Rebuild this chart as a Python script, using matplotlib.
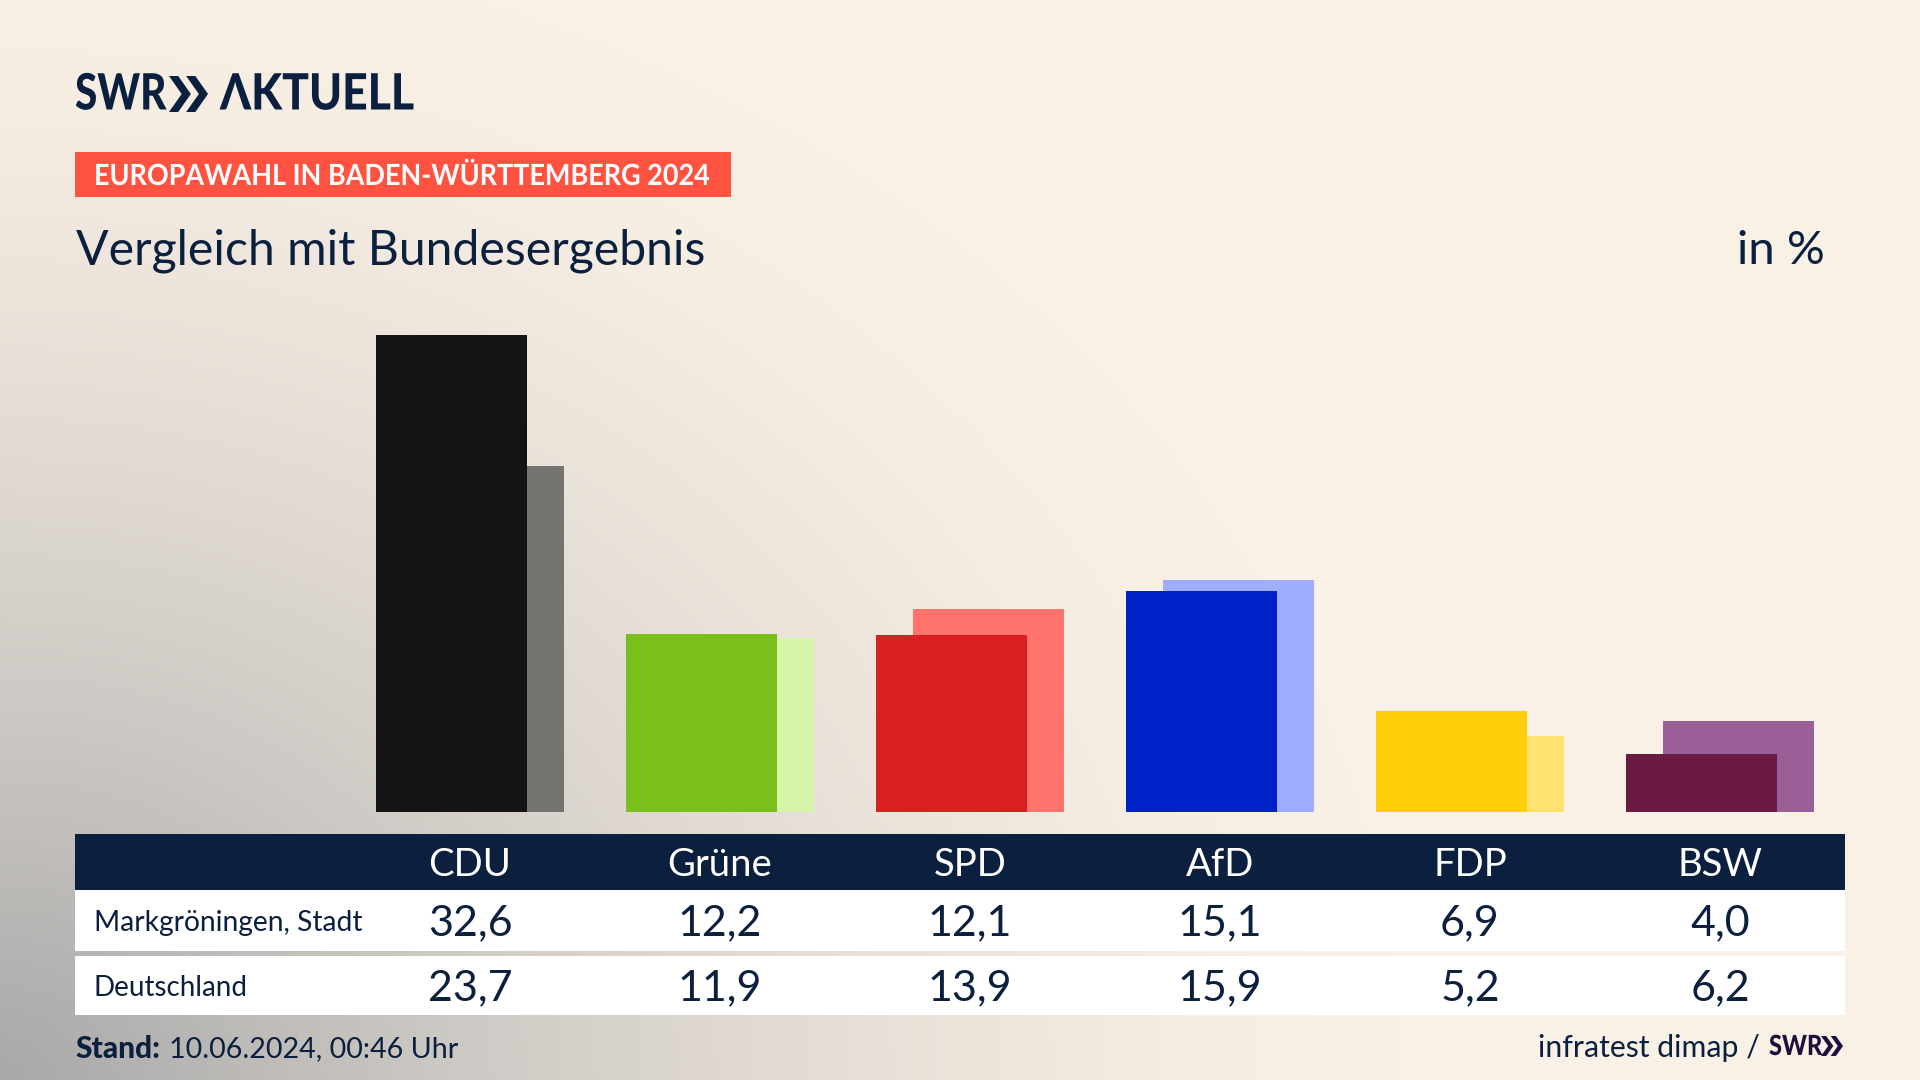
import numpy as np
import matplotlib

matplotlib.use("Agg")
import matplotlib.pyplot as plt
from matplotlib.patches import Polygon, Rectangle
from matplotlib.patheffects import AbstractPathEffect
from matplotlib.transforms import Affine2D

plt.rcParams["font.family"] = ["Lato", "DejaVu Sans"]

NAVY = "#0B1F3E"

parties = ["CDU", "Grüne", "SPD", "AfD", "FDP", "BSW"]
local_vals = [32.6, 12.2, 12.1, 15.1, 6.9, 4.0]
national_vals = [23.7, 11.9, 13.9, 15.9, 5.2, 6.2]
local_labels = ["32,6", "12,2", "12,1", "15,1", "6,9", "4,0"]
national_labels = ["23,7", "11,9", "13,9", "15,9", "5,2", "6,2"]
local_colors = ["#141414", "#7ABF1B", "#D91F1F", "#0021C8", "#FFCD09", "#6B1A41"]
national_colors = ["#74736F", "#D6F5A9", "#FF756E", "#9EADFF", "#FFE26F", "#9B5F98"]

W, H = 1920, 1080
GROUP_X0 = 470  # pixel centre of first group
GROUP_DX = 250
BASE_Y = 812
PX_PER_UNIT = 14.62


class SqueezeX(AbstractPathEffect):
    """Narrow a text horizontally around display position x0, no condensed font here."""

    def __init__(self, factor, x0):
        super().__init__()
        self.factor = factor
        self.x0 = x0

    def draw_path(self, renderer, gc, tpath, affine, rgbFace=None):
        squeeze = Affine2D().translate(-self.x0, 0).scale(self.factor, 1).translate(self.x0, 0)
        renderer.draw_path(gc, tpath, affine + squeeze, rgbFace)


def chevrons(ax, x, y, w, h, color):
    """Two >> shapes as in the SWR logo."""
    cw = w * 0.56
    t = cw * 0.42
    for x0 in (x, x + w - cw):
        pts = [
            (x0, y),
            (x0 + t, y),
            (x0 + cw, y + h / 2),
            (x0 + t, y + h),
            (x0, y + h),
            (x0 + cw - t, y + h / 2),
        ]
        ax.add_patch(Polygon(pts, closed=True, color=color, lw=0))


fig = plt.figure(figsize=(19.2, 10.8), dpi=100)

# pixel canvas for background, table and texts
bg = fig.add_axes([0, 0, 1, 1])
bg.set_xlim(0, W)
bg.set_ylim(H, 0)
bg.axis("off")

yy, xx = np.mgrid[0:H, 0:W]
dist = np.sqrt((xx / 1400.0) ** 2 + ((H - yy) / 1150.0) ** 2)
t = 1 - (1 - np.clip(dist, 0, 1)) ** 1.5
c0 = np.array([0xA8, 0xA8, 0xA8]) / 255
c1 = np.array([0xFA, 0xF1, 0xE6]) / 255
grad = c0 + (c1 - c0) * t[..., None]
bg.imshow(grad, extent=(0, W, H, 0), aspect="auto", zorder=0)
bg.set_xlim(0, W)
bg.set_ylim(H, 0)

# logo
bg.text(75, 95, "SWR", fontsize=36, fontweight="black", color=NAVY, va="center", ha="left",
        path_effects=[SqueezeX(0.81, 75)])
chevrons(bg, 169, 76, 39, 36, NAVY)
bg.text(220, 95, "ΛKTUELL", fontsize=36, fontweight="black", color=NAVY, va="center", ha="left",
        path_effects=[SqueezeX(0.89, 220)])

# header
bg.add_patch(Rectangle((75, 152), 656, 45, color="#FF5240", lw=0))
bg.text(94, 177, "EUROPAWAHL IN BADEN-WÜRTTEMBERG 2024", fontsize=21, fontweight="bold",
        color="white", va="center", ha="left", path_effects=[SqueezeX(0.925, 94)])
bg.text(76, 251, "Vergleich mit Bundesergebnis", fontsize=34.7, color=NAVY, va="center", ha="left")
bg.text(1825, 251, "in %", fontsize=34, color=NAVY, va="center", ha="right")

# table
bg.add_patch(Rectangle((75, 834), 1770, 56, color="#0B1F3E", lw=0))
bg.add_patch(Rectangle((75, 890), 1770, 61, color="white", lw=0))
bg.add_patch(Rectangle((75, 956), 1770, 59, color="white", lw=0))
bg.text(94, 923, "Markgröningen, Stadt", fontsize=20.3, color=NAVY, va="center", ha="left")
bg.text(93, 988, "Deutschland", fontsize=20, color=NAVY, va="center", ha="left")
for i, name in enumerate(parties):
    cx = GROUP_X0 + GROUP_DX * i
    bg.text(cx, 865, name, fontsize=27.5, color="white", va="center", ha="center")
    bg.text(cx, 923, local_labels[i], fontsize=31, color=NAVY, va="center", ha="center")
    bg.text(cx, 988, national_labels[i], fontsize=31, color=NAVY, va="center", ha="center")

# footer
bg.text(75, 1049, "Stand:", fontsize=21.5, fontweight="black", color=NAVY, va="center", ha="left")
bg.text(169, 1049, "10.06.2024, 00:46 Uhr", fontsize=20.6, color=NAVY, va="center", ha="left")
bg.text(1760, 1048, "infratest dimap /", fontsize=21.8, color=NAVY, va="center", ha="right")
bg.text(1769, 1047, "SWR", fontsize=20, fontweight="black", color="#1F0F3F", va="center", ha="left",
        path_effects=[SqueezeX(0.85, 1769)])
chevrons(bg, 1821, 1036, 22, 20, "#1F0F3F")

# bars on a data axes laid over the whole figure
ax = fig.add_axes([0, 0, 1, 1], facecolor="none")
ax.set_xlim(-GROUP_X0 / GROUP_DX, (W - GROUP_X0) / GROUP_DX)
ax.set_ylim(-(H - BASE_Y) / PX_PER_UNIT, BASE_Y / PX_PER_UNIT)
ax.axis("off")
x = np.arange(len(parties))
bar_w = 151 / GROUP_DX
offset = 18.5 / GROUP_DX
ax.bar(x + offset, national_vals, bar_w, color=national_colors, zorder=2)
ax.bar(x - offset, local_vals, bar_w, color=local_colors, zorder=3)

fig.savefig("out.png", dpi=100)
